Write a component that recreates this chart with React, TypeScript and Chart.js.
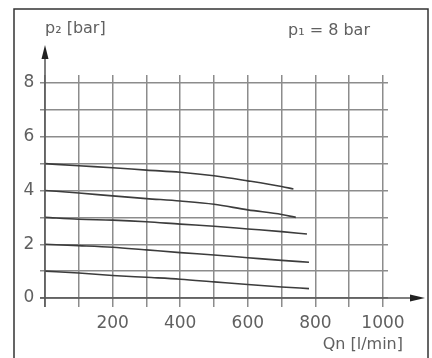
import React, { useEffect, useRef } from "react";
import { Chart, registerables } from "chart.js";

Chart.register(...registerables);

// Flow rate Qn [l/min] and outlet pressure p2 [bar] for each set pressure
const qn5 = [0, 100, 200, 300, 400, 500, 600, 700, 735];
const p2_5 = [5.0, 4.92, 4.85, 4.76, 4.68, 4.55, 4.36, 4.15, 4.06];
const qn4 = [0, 100, 200, 300, 400, 500, 600, 700, 742];
const p2_4 = [4.0, 3.91, 3.8, 3.7, 3.61, 3.49, 3.28, 3.11, 3.0];
const qn3 = [0, 100, 200, 300, 400, 500, 600, 700, 775];
const p2_3 = [3.0, 2.93, 2.9, 2.84, 2.75, 2.67, 2.57, 2.47, 2.38];
const qn2 = [0, 100, 200, 300, 400, 500, 600, 700, 781];
const p2_2 = [2.0, 1.95, 1.89, 1.79, 1.69, 1.6, 1.5, 1.4, 1.33];
const qn1 = [0, 100, 200, 300, 400, 500, 600, 700, 781];
const p2_1 = [1.0, 0.93, 0.84, 0.77, 0.7, 0.6, 0.5, 0.41, 0.35];

const xTicks = [0, 100, 200, 300, 400, 500, 600, 700, 800, 900, 1000];
const xLabels = [200, 400, 600, 800, 1000];
const yTicks = [0, 1, 2, 3, 4, 5, 6, 7, 8];
const yLabels = [0, 2, 4, 6, 8];

const yAxisTitle = "p₂ [bar]";
const xAxisTitle = "Qn [l/min]";
const noteText = "p₁ = 8 bar";

const series = [
  { x: qn5, y: p2_5 },
  { x: qn4, y: p2_4 },
  { x: qn3, y: p2_3 },
  { x: qn2, y: p2_2 },
  { x: qn1, y: p2_1 },
];

const FONT = "16px 'DejaVu Sans', sans-serif";
const TICK_FONT = "17px 'DejaVu Sans', sans-serif";
const TEXT = "#606060";

const decorPlugin = {
  id: "decor",
  afterDraw(chart: any) {
    const ctx = chart.ctx as CanvasRenderingContext2D;
    const xs = chart.scales.x;
    const ys = chart.scales.y;
    const x0 = xs.getPixelForValue(0);
    const y0 = ys.getPixelForValue(0);
    const area = chart.chartArea;
    ctx.save();
    // frame
    ctx.strokeStyle = "#333";
    ctx.lineWidth = 1.5;
    ctx.strokeRect(14, 9, 414, 360);
    // axes
    ctx.strokeStyle = "#555";
    ctx.lineWidth = 1.5;
    ctx.beginPath();
    ctx.moveTo(x0, area.bottom);
    ctx.lineTo(x0, 56);
    ctx.moveTo(area.left, y0);
    ctx.lineTo(412, y0);
    ctx.stroke();
    ctx.fillStyle = "#222";
    ctx.beginPath();
    ctx.moveTo(x0, 45);
    ctx.lineTo(x0 - 3.5, 59);
    ctx.lineTo(x0 + 3.5, 59);
    ctx.closePath();
    ctx.fill();
    ctx.beginPath();
    ctx.moveTo(425, y0);
    ctx.lineTo(410, y0 - 3.5);
    ctx.lineTo(410, y0 + 3.5);
    ctx.closePath();
    ctx.fill();
    // labels
    ctx.fillStyle = TEXT;
    ctx.textBaseline = "middle";
    ctx.textAlign = "center";
    ctx.font = TICK_FONT;
    for (const v of yLabels) ctx.fillText(String(v), 29, ys.getPixelForValue(v));
    for (const v of xLabels) ctx.fillText(String(v), xs.getPixelForValue(v), 324);
    ctx.font = FONT;
    ctx.textAlign = "left";
    ctx.fillText(yAxisTitle, 45, 29);
    ctx.fillText(noteText, 288, 31);
    ctx.textAlign = "right";
    ctx.fillText(xAxisTitle, 403, 345);
    ctx.restore();
  },
};

export default function App() {
  const ref = useRef<HTMLCanvasElement>(null);
  useEffect(() => {
    if (!ref.current) return;
    const chart = new Chart(ref.current, {
      type: "line",
      data: {
        datasets: series.map((s) => ({
          data: s.x.map((x, i) => ({ x, y: s.y[i] })),
          borderColor: "#3c3c3c",
          borderWidth: 1.6,
          pointRadius: 0,
          cubicInterpolationMode: "monotone",
          fill: false,
        })),
      },
      options: {
        animation: false,
        responsive: false,
        layout: { padding: { left: 40, right: 44, top: 75, bottom: 51 } },
        plugins: { legend: { display: false }, tooltip: { enabled: false } },
        scales: {
          x: {
            type: "linear",
            min: -14.8,
            max: 1014.8,
            afterBuildTicks: (scale: any) => {
              scale.ticks = xTicks.map((v) => ({ value: v }));
            },
            ticks: { display: false },
            border: { display: false },
            grid: { color: "#8c8c8c", lineWidth: 1.5, drawTicks: false },
          },
          y: {
            type: "linear",
            min: -0.335,
            max: 8.3,
            afterBuildTicks: (scale: any) => {
              scale.ticks = yTicks.map((v) => ({ value: v }));
            },
            ticks: { display: false },
            border: { display: false },
            grid: { color: "#8c8c8c", lineWidth: 1.5, drawTicks: false },
          },
        },
      },
      plugins: [decorPlugin],
    });
    return () => chart.destroy();
  }, []);
  return (
    <div style={{ position: "absolute", left: 0, top: 0, width: 432, height: 358, background: "#fff" }}>
      <canvas ref={ref} width={432} height={358} />
    </div>
  );
}
